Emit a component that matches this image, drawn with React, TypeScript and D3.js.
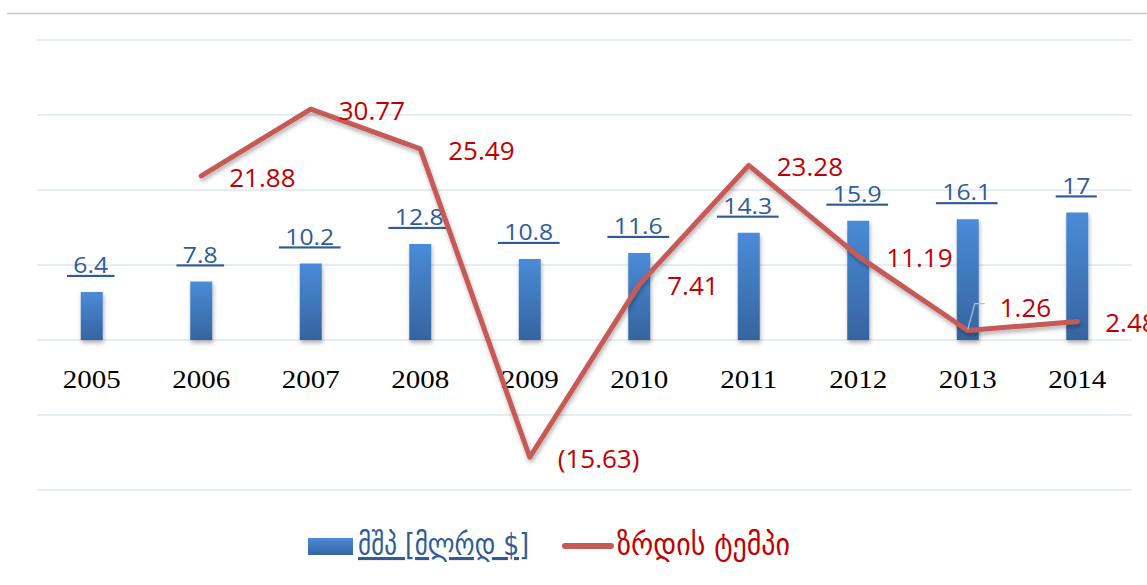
import React from "react";
import * as d3 from "d3";

const years = ["2005", "2006", "2007", "2008", "2009", "2010", "2011", "2012", "2013", "2014"];
const gdp = [6.4, 7.8, 10.2, 12.8, 10.8, 11.6, 14.3, 15.9, 16.1, 17];
const growth: (number | null)[] = [null, 21.88, 30.77, 25.49, -15.63, 7.41, 23.28, 11.19, 1.26, 2.48];
const gdpLegend = "მშპ [მლრდ $]";
const growthLegend = "ზრდის ტემპი";

const W = 1147;
const H = 585;

export default function App() {
  const x = d3.scaleBand<string>().domain(years).range([37, 1132]).padding(0);
  const y = d3.scaleLinear().domain([-20, 40]).range([490, 40]);
  const cx = (yr: string) => (x(yr) as number) + x.bandwidth() / 2;
  const ticks = y.ticks(6);
  const barW = 22;

  const pts = years
    .map((yr, i) => ({ yr, v: growth[i], i }))
    .filter((d) => d.v !== null) as { yr: string; v: number; i: number }[];
  const line = d3
    .line<{ yr: string; v: number }>()
    .x((d) => cx(d.yr))
    .y((d) => y(d.v));

  const fmtGrowth = (v: number) => (v < 0 ? `(${Math.abs(v).toFixed(2)})` : `${v}`);

  return (
    <svg
      width={W}
      height={H}
      style={{ position: "absolute", left: 0, top: 0, background: "#fff" }}
    >
      <defs>
        <linearGradient id="barGrad" x1="0" y1="0" x2="0" y2="1">
          <stop offset="0" stopColor="#4a8bd8" />
          <stop offset="1" stopColor="#36649f" />
        </linearGradient>
        <filter id="shadow" x="-20%" y="-20%" width="140%" height="140%">
          <feDropShadow dx="1" dy="3" stdDeviation="2" floodColor="#000" floodOpacity="0.3" />
        </filter>
      </defs>

      <line x1={7} x2={1147} y1={13.5} y2={13.5} stroke="#c4c4c4" strokeWidth={1.5} />

      {ticks.map((t) => (
        <line key={t} x1={37} x2={1132} y1={y(t)} y2={y(t)} stroke="#dde7f3" strokeWidth={1.5} />
      ))}

      {years.map((yr, i) => (
        <rect
          key={yr}
          x={cx(yr) - barW / 2}
          y={y(gdp[i])}
          width={barW}
          height={y(0) - y(gdp[i])}
          fill="url(#barGrad)"
          filter="url(#shadow)"
        />
      ))}

      {years.map((yr, i) => (
        <text
          key={"bl" + yr}
          transform={`translate(${cx(yr) - 1},${y(gdp[i]) - 19}) scale(1.15,1)`}
          textAnchor="middle"
          fontFamily="'Open Sans', sans-serif"
          fontSize={21.5}
          fill="#2f5c97"
          style={{ textDecoration: "underline", whiteSpace: "pre" }}
        >
          {" " + gdp[i] + " "}
        </text>
      ))}

      {years.map((yr) => (
        <text
          key={"yl" + yr}
          transform={`translate(${cx(yr)},388) scale(1.16,1)`}
          textAnchor="middle"
          fontFamily="'Liberation Serif', serif"
          fontSize={25}
          fill="#000"
        >
          {yr}
        </text>
      ))}

      <path
        d={line(pts) || ""}
        fill="none"
        stroke="#c55a57"
        strokeWidth={5}
        strokeLinejoin="round"
        strokeLinecap="round"
        filter="url(#shadow)"
      />

      {/* leader line for moved 2013 label */}
      <polyline
        points={`${cx("2013")},${y(1.26) - 1} ${cx("2013") + 7},${y(1.26) - 27} ${cx("2013") + 17},${y(1.26) - 27}`}
        fill="none"
        stroke="#a9c3e3"
        strokeWidth={1.2}
      />

      {pts.map((d) => {
        const moved = d.yr === "2013";
        return (
          <text
            key={"gl" + d.yr}
            x={cx(d.yr) + (moved ? 32 : 28)}
            y={y(d.v) + (moved ? -24 : 1)}
            dominantBaseline="central"
            fontFamily="'Open Sans', sans-serif"
            fontSize={26}
            fill="#c00000"
          >
            {fmtGrowth(d.v)}
          </text>
        );
      })}

      {/* legend */}
      <rect x={308} y={538} width={45} height={17} fill="url(#barGrad)" />
      <text
        x={358}
        y={555}
        fontFamily="'DejaVu Sans', sans-serif"
        fontSize={31}
        fill="#2f5c97"
        textLength={171}
        lengthAdjust="spacingAndGlyphs"
        style={{ textDecoration: "underline" }}
      >
        {gdpLegend}
      </text>
      <line x1={565} x2={611} y1={546} y2={546} stroke="#c55a57" strokeWidth={6} strokeLinecap="round" />
      <text
        x={617}
        y={555}
        fontFamily="'DejaVu Sans', sans-serif"
        fontSize={31}
        fill="#c00000"
        textLength={173}
        lengthAdjust="spacingAndGlyphs"
      >
        {growthLegend}
      </text>
    </svg>
  );
}
